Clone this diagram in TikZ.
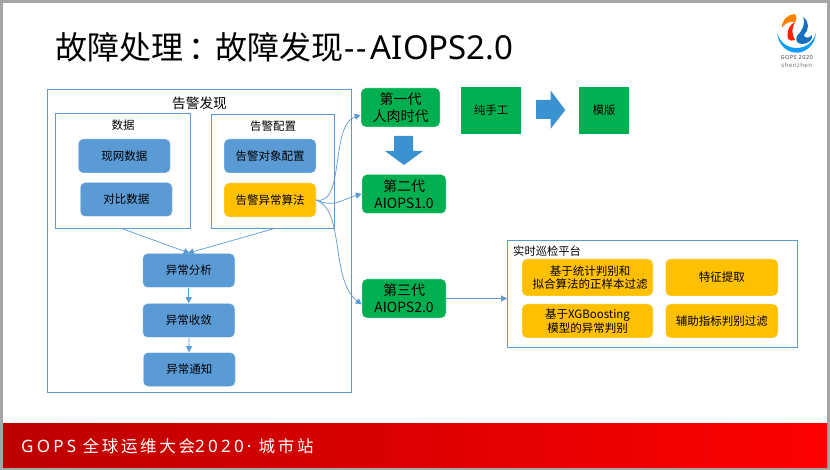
\documentclass[tikz,border=0pt]{standalone}
\usepackage{fontspec}
\setmainfont{Noto Sans CJK SC}
\newfontfamily\latinfont{Noto Sans}
\newfontfamily\bandfont[LetterSpace=16.5]{Noto Sans CJK SC}
\newfontfamily\bandlatin[LetterSpace=19]{Noto Sans}
\newfontfamily\logofont[LetterSpace=8]{Noto Sans}
\usetikzlibrary{arrows.meta}
\definecolor{linkblue}{HTML}{5B9BD5}
\definecolor{arrowblue}{HTML}{3A92D0}
\definecolor{okgreen}{HTML}{00B050}
\definecolor{amber}{HTML}{FFC000}
\definecolor{framegray}{HTML}{A6A6A6}
\definecolor{bandleft}{HTML}{BC0000}
\definecolor{bandright}{HTML}{FF0000}
\newcommand{\fs}[2]{\fontsize{#1}{#2}\selectfont}
\tikzset{
  x=1pt,y=-1pt,
  card/.style={rounded corners=5pt,inner sep=0pt,align=center,text=black,draw=white,draw opacity=.35,line width=.6pt,font=\fs{11.5}{13.5}},
  bluecard/.style={card,fill=linkblue,minimum width=92pt,minimum height=34pt},
  ambercard/.style={card,fill=amber},
  greencard/.style={card,fill=okgreen,font=\fs{14}{17}},
  square/.style={fill=okgreen,inner sep=0pt,text=black,font=\fs{11.5}{13.5}},
  panel/.style={draw=linkblue,line width=.8pt,fill=none},
  caption/.style={inner sep=0pt,text=black},
  link/.style={draw=linkblue,line width=.7pt,-{Triangle[length=6pt,width=6pt]}},
}
\begin{document}
\begin{tikzpicture}
\useasboundingbox (0,0) rectangle (830,470);
% slide frame and footer band
\fill[framegray] (0,0) rectangle (830,470);
\fill[white] (3,3) rectangle (827,467);
\shade[left color=bandleft,right color=bandright] (3,423) rectangle (827,467);
\node[anchor=west,inner sep=0pt,text=white,font=\bandfont\fs{16.5}{18}] (footer) at (21,446) {{\bandlatin\fs{17}{18}GOPS} 全球运维大会{\bandlatin\fs{17}{18}2020·}\kern7pt城市站};
\node[anchor=west,caption,font=\fs{32}{36}] (title) at (55,47) {故障处理\kern5pt：\kern-5pt故障发现{\latinfont\kern1pt-\kern2pt-\kern4pt\fs{33}{36}AIOPS2.0}};

% emblem
\fill[linkblue!30!cyan!70!blue] (777.3,33) .. controls (778,45) and (787,52.7) .. (796.7,52.7) .. controls (806,52.7) and (815,45) .. (816,33) .. controls (813,43) and (805,48) .. (796.7,48) .. controls (788,48) and (780,43) .. (777.3,33) -- cycle;
\fill[orange] (795,14) .. controls (788,14) and (782,20) .. (781.7,28) .. controls (785,23) and (790,21) .. (795,22) .. controls (797,19) and (797,16) .. (795,14) -- cycle;
\fill[red!75!orange] (795,22) .. controls (790,24) and (786,31) .. (788,39) .. controls (790,41) and (793,41) .. (795,40) .. controls (791,34) and (792,27) .. (795,22) -- cycle;
\fill[cyan!50!blue] (803,17) .. controls (806,24) and (802,31) .. (797,36) .. controls (795,40) and (797,44) .. (802,44) .. controls (808,44) and (813,40) .. (812,35) .. controls (809,39) and (804,38) .. (804,35) .. controls (809,30) and (810,22) .. (803,17) -- cycle;
\node[inner sep=0pt,text=black!75,font=\logofont\bfseries\fs{5.6}{6}] (logoa) at (796.7,58) {GOPS 2020};
\node[inner sep=0pt,text=black!55,font=\logofont\fs{6}{7}] (logob) at (796.7,65.5) {shenzhen};

% alert discovery panel
\node[panel,minimum width=304pt,minimum height=303pt,inner sep=0pt] (alert) at (199.5,241) {};
\node[caption,font=\fs{13.7}{16}] (alertcap) at (199.5,103) {告警发现};
\node[panel,minimum width=135.5pt,minimum height=115pt,inner sep=0pt] (data) at (122.75,171) {};
\node[caption,font=\fs{11.5}{13}] (datacap) at (123,125.5) {数据};
\node[panel,minimum width=123pt,minimum height=114pt,inner sep=0pt] (conf) at (273,171.5) {};
\node[caption,font=\fs{11.5}{13}] (confcap) at (273,126) {告警配置};
\node[bluecard] (live) at (124.25,156) {现网数据};
\node[bluecard] (cmp) at (126.25,199.5) {对比数据};
\node[bluecard] (target) at (270,156) {告警对象配置};
\node[ambercard,minimum width=92pt,minimum height=34pt] (algo) at (270,200) {告警异常算法};
\node[bluecard] (ana) at (188.75,270.5) {异常分析};
\node[bluecard] (merge) at (188.75,320.5) {异常收敛};
\node[bluecard] (notify) at (189.25,369.5) {异常通知};

% generations
\node[greencard,minimum width=79pt,minimum height=39pt] (gen1) at (400.5,107.5) {第一代\\人肉时代};
\node[greencard,minimum width=84pt,minimum height=39pt] (gen2) at (404,194) {第二代\\AIOPS1.0};
\node[greencard,minimum width=84pt,minimum height=39pt] (gen3) at (404,298.5) {第三代\\AIOPS2.0};
\fill[arrowblue] (394,136) -- (413,136) -- (413,151) -- (423,151) -- (404,165) -- (385,151) -- (394,151) -- cycle;
\node[square,minimum width=60pt,minimum height=47pt] (manual) at (491,110.5) {纯手工};
\fill[arrowblue] (536,100) -- (550.7,100) -- (550.7,90.7) -- (565.3,110) -- (550.7,128.7) -- (550.7,119) -- (536,119) -- cycle;
\node[square,minimum width=50pt,minimum height=47pt] (tmpl) at (604,110.5) {模版};

% inspection platform
\node[panel,minimum width=290pt,minimum height=107pt,inner sep=0pt] (plat) at (652.5,294) {};
\node[caption,anchor=west,font=\fs{11.3}{13}] (platcap) at (513,251.5) {实时巡检平台};
\node[ambercard,minimum width=131pt,minimum height=37pt] (p1) at (587.5,277.5) {\hspace*{5pt}基于统计判别和\\\hspace*{5pt}拟合算法的正样本过滤};
\node[ambercard,minimum width=112.5pt,minimum height=37pt] (p2) at (721.75,277.5) {特征提取};
\node[ambercard,minimum width=131pt,minimum height=34pt] (p3) at (587.5,321) {基于XGBoosting\\模型的异常判别};
\node[ambercard,minimum width=112.5pt,minimum height=34pt] (p4) at (721.75,321) {辅助指标判别过滤};

% connectors
\draw[link] (data.south) -- ([xshift=1pt]ana.north);
\draw[link] (conf.south) -- ([xshift=-1pt]ana.north);
\draw[link] (ana) -- (merge);
\draw[link] (merge) -- (notify);
\draw[link] (algo.east) .. controls (345,206) and (330,125) .. ([yshift=-7.5pt]gen1.west);
\draw[link] (algo.east) .. controls (335,208) and (340,200) .. (gen2.west);
\draw[link] (algo.east) .. controls (345,210) and (330,280) .. ([yshift=-6pt]gen3.west);
\draw[link] (gen3.east) -- ([yshift=-4.5pt]plat.west);
\end{tikzpicture}
\end{document}
